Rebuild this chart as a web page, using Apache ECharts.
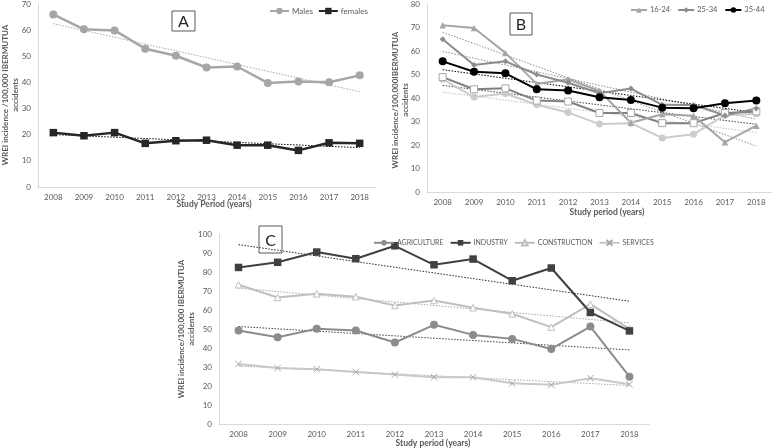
<!DOCTYPE html>
<html>
<head>
<meta charset="utf-8">
<script src="https://cdn.jsdelivr.net/npm/echarts@6/dist/echarts.min.js"></script>
<style>html,body{margin:0;padding:0;background:#fff}#c{width:772px;height:448px}</style>
</head>
<body>
<div id="c"></div>
<script>
// ---------- data ----------
const years = ['2008','2009','2010','2011','2012','2013','2014','2015','2016','2017','2018'];

// Panel A
const males   = [66.0, 60.3, 59.9, 52.9, 50.2, 45.7, 46.1, 39.8, 40.4, 40.1, 42.7];
const females = [20.8, 19.6, 20.8, 16.7, 17.7, 17.9, 16.0, 16.0, 14.0, 16.9, 16.7];

// Panel B
const age16_24 = [71.0, 69.8, 59.2, 46.0, 48.0, 43.0, 29.5, 33.1, 32.4, 21.2, 28.2];
const age25_34 = [65.0, 54.0, 55.6, 50.0, 46.5, 42.0, 44.0, 37.1, 37.0, 32.6, 35.5];
const age35_44 = [55.6, 51.2, 50.5, 43.7, 43.2, 40.3, 39.2, 35.9, 35.6, 37.8, 38.9];
const ageSer4  = [48.9, 43.7, 44.1, 38.9, 38.5, 33.6, 33.6, 29.3, 29.3, 33.6, 34.3];
const ageSer5  = [48.0, 40.4, 41.9, 37.1, 33.8, 28.9, 29.3, 23.0, 24.6, 32.7, 33.3];

// Panel C
const agriculture  = [49.2, 45.7, 50.1, 49.2, 42.9, 52.2, 46.9, 44.8, 39.5, 51.3, 24.9];
const industry     = [82.4, 85.1, 90.5, 87.0, 93.8, 83.8, 86.8, 75.4, 82.1, 58.7, 49.0];
const construction = [73.3, 66.6, 68.5, 67.0, 62.4, 65.0, 61.2, 58.0, 51.0, 63.1, 50.1];
const services     = [31.6, 29.5, 28.8, 27.4, 26.0, 24.6, 24.6, 21.4, 20.6, 24.1, 20.9];

// ---------- helpers ----------
const FONT = 'Lato, "Open Sans", sans-serif';
const GRAY = '#595959';
// least-squares linear trend line (as the original spreadsheet trendlines)
function trend(arr){
  const n = arr.length; let sx=0, sy=0, sxy=0, sxx=0;
  arr.forEach((y,i)=>{sx+=i; sy+=y; sxy+=i*y; sxx+=i*i;});
  const m = (n*sxy - sx*sy)/(n*sxx - sx*sx);
  const b = (sy - m*sx)/n;
  return arr.map((_,i)=> +(b + m*i).toFixed(2));
}
function lineS(name, data, gi, color, symbol, size, width, item){
  return {
    name, type:'line', data, xAxisIndex:gi, yAxisIndex:gi,
    symbol, symbolSize:size, showSymbol:true, z:3,
    lineStyle:{color, width},
    itemStyle: item || {color},
    emphasis:{disabled:true}
  };
}
function trendS(data, gi, color){
  return {
    type:'line', data:trend(data), xAxisIndex:gi, yAxisIndex:gi,
    symbol:'none', silent:true, z:2,
    lineStyle:{color, width:1, type:[1.5,1.5]},
    emphasis:{disabled:true}
  };
}
function xAx(gi){
  return {
    type:'category', data:years, gridIndex:gi,
    axisLine:{lineStyle:{color:'#d9d9d9', width:1}},
    axisTick:{show:false},
    axisLabel:{color:GRAY, fontSize:8, margin:6, fontFamily:FONT}
  };
}
function yAx(gi, max){
  return {
    type:'value', gridIndex:gi, min:0, max, interval:10,
    splitLine:{show:false},
    axisLine:{show:true, lineStyle:{color:'#d9d9d9', width:1}},
    axisTick:{show:false},
    axisLabel:{color:GRAY, fontSize:8, margin:7, fontFamily:FONT}
  };
}
function vTitle(x, y, text){
  return {type:'text', x, y, rotation:Math.PI/2, z:10,
    style:{text, align:'center', verticalAlign:'middle', textAlign:'center', textVerticalAlign:'middle',
      fontFamily:FONT, fontSize:8, fontWeight:'bold', fill:GRAY, lineHeight:10}};
}
function hTitle(x, y, text){
  return {type:'text', x, y, z:10,
    style:{text, align:'center', verticalAlign:'middle', textAlign:'center', textVerticalAlign:'middle',
      fontFamily:FONT, fontSize:8.5, fontWeight:'bold', fill:GRAY}};
}
function box(x, y, w, h, letter){
  return [
    {type:'rect', shape:{x, y, width:w, height:h}, z:10,
      style:{fill:'rgba(0,0,0,0)', stroke:'#595959', lineWidth:1}},
    {type:'text', x:x+w/2, y:y+h/2+1, z:11,
      style:{text:letter, align:'center', verticalAlign:'middle', textAlign:'center', textVerticalAlign:'middle',
        fontFamily:FONT, fontSize:16, fill:'#262626'}}
  ];
}
const xPath = 'path://M0,0 L10,10 M10,0 L0,10';

const option = {
  animation:false,
  textStyle:{fontFamily:FONT},
  grid:[
    {left:38, right:397, top:3, bottom:261},
    {left:427, right:0, top:3, bottom:256},
    {left:219, right:123, top:234, bottom:24}
  ],
  xAxis:[xAx(0), xAx(1), xAx(2)],
  yAxis:[yAx(0,70), yAx(1,80), yAx(2,100)],
  legend:[
    {data:['Males','females'], left:269, top:7, padding:0, itemGap:5, itemWidth:19, itemHeight:8,
      textStyle:{color:GRAY, fontSize:8, fontFamily:FONT, padding:[0,0,0,-2]}},
    {data:['16-24','25-34','35-44'], left:630, top:6, width:220, padding:0, itemGap:7, itemWidth:16, itemHeight:7,
      textStyle:{color:GRAY, fontSize:7.5, fontFamily:FONT, padding:[0,0,0,-2]}},
    {data:['AGRICULTURE','INDUSTRY','CONSTRUCTION','SERVICES'], left:373, top:239, padding:0, itemGap:6, itemWidth:20, itemHeight:7,
      textStyle:{color:GRAY, fontSize:7, fontFamily:FONT, padding:[0,0,0,-2]}}
  ],
  series:[
    // A
    trendS(males, 0, '#a6a6a6'),
    trendS(females, 0, '#000000'),
    lineS('Males', males, 0, '#a6a6a6', 'circle', 8, 2.5),
    lineS('females', females, 0, '#262626', 'rect', 7.5, 2.5),
    // B
    trendS(age16_24, 1, '#8c8c8c'),
    trendS(age25_34, 1, '#8c8c8c'),
    trendS(age35_44, 1, '#000000'),
    trendS(ageSer4, 1, '#404040'),
    trendS(ageSer5, 1, '#bfbfbf'),
    lineS('series5', ageSer5, 1, '#cccccc', 'circle', 7, 2),
    lineS('series4', ageSer4, 1, '#808080', 'rect', 7, 2, {color:'#ffffff', borderColor:'#a6a6a6', borderWidth:1}),
    lineS('16-24', age16_24, 1, '#a6a6a6', 'triangle', 6.5, 2),
    lineS('25-34', age25_34, 1, '#8c8c8c', 'diamond', 6, 2),
    lineS('35-44', age35_44, 1, '#000000', 'circle', 8, 2),
    // C
    trendS(industry, 2, '#262626'),
    trendS(agriculture, 2, '#404040'),
    trendS(construction, 2, '#a6a6a6'),
    trendS(services, 2, '#a6a6a6'),
    lineS('SERVICES', services, 2, '#c8c8c8', xPath, 6.5, 2, {color:'#c8c8c8', borderColor:'#a6a6a6', borderWidth:1}),
    lineS('CONSTRUCTION', construction, 2, '#bfbfbf', 'triangle', 6.5, 2, {color:'#ffffff', borderColor:'#bfbfbf', borderWidth:1}),
    lineS('AGRICULTURE', agriculture, 2, '#8c8c8c', 'circle', 8, 2),
    lineS('INDUSTRY', industry, 2, '#404040', 'rect', 7.5, 2)
  ],
  graphic:[
    vTitle(10, 95, 'WREI incidence /100,000 IBERMUTUA\naccidents'),
    hTitle(214, 204, 'Study Period (years)'),
    vTitle(400, 100, 'WREI incidence/100,000IBERMUTUA\naccidents'),
    hTitle(607, 212, 'Study period (years)'),
    vTitle(186, 329, 'WREI incidence/100,000 IBERMUTUA\naccidents'),
    hTitle(433, 443, 'Study period (years)'),
    ...box(172, 11, 23, 20, 'A'),
    ...box(510, 13, 22, 22, 'B'),
    ...box(259, 226, 23, 27, 'C')
  ]
};
const chart = echarts.init(document.getElementById('c'), null, {renderer:'canvas'});
chart.setOption(option);
</script>
</body>
</html>
